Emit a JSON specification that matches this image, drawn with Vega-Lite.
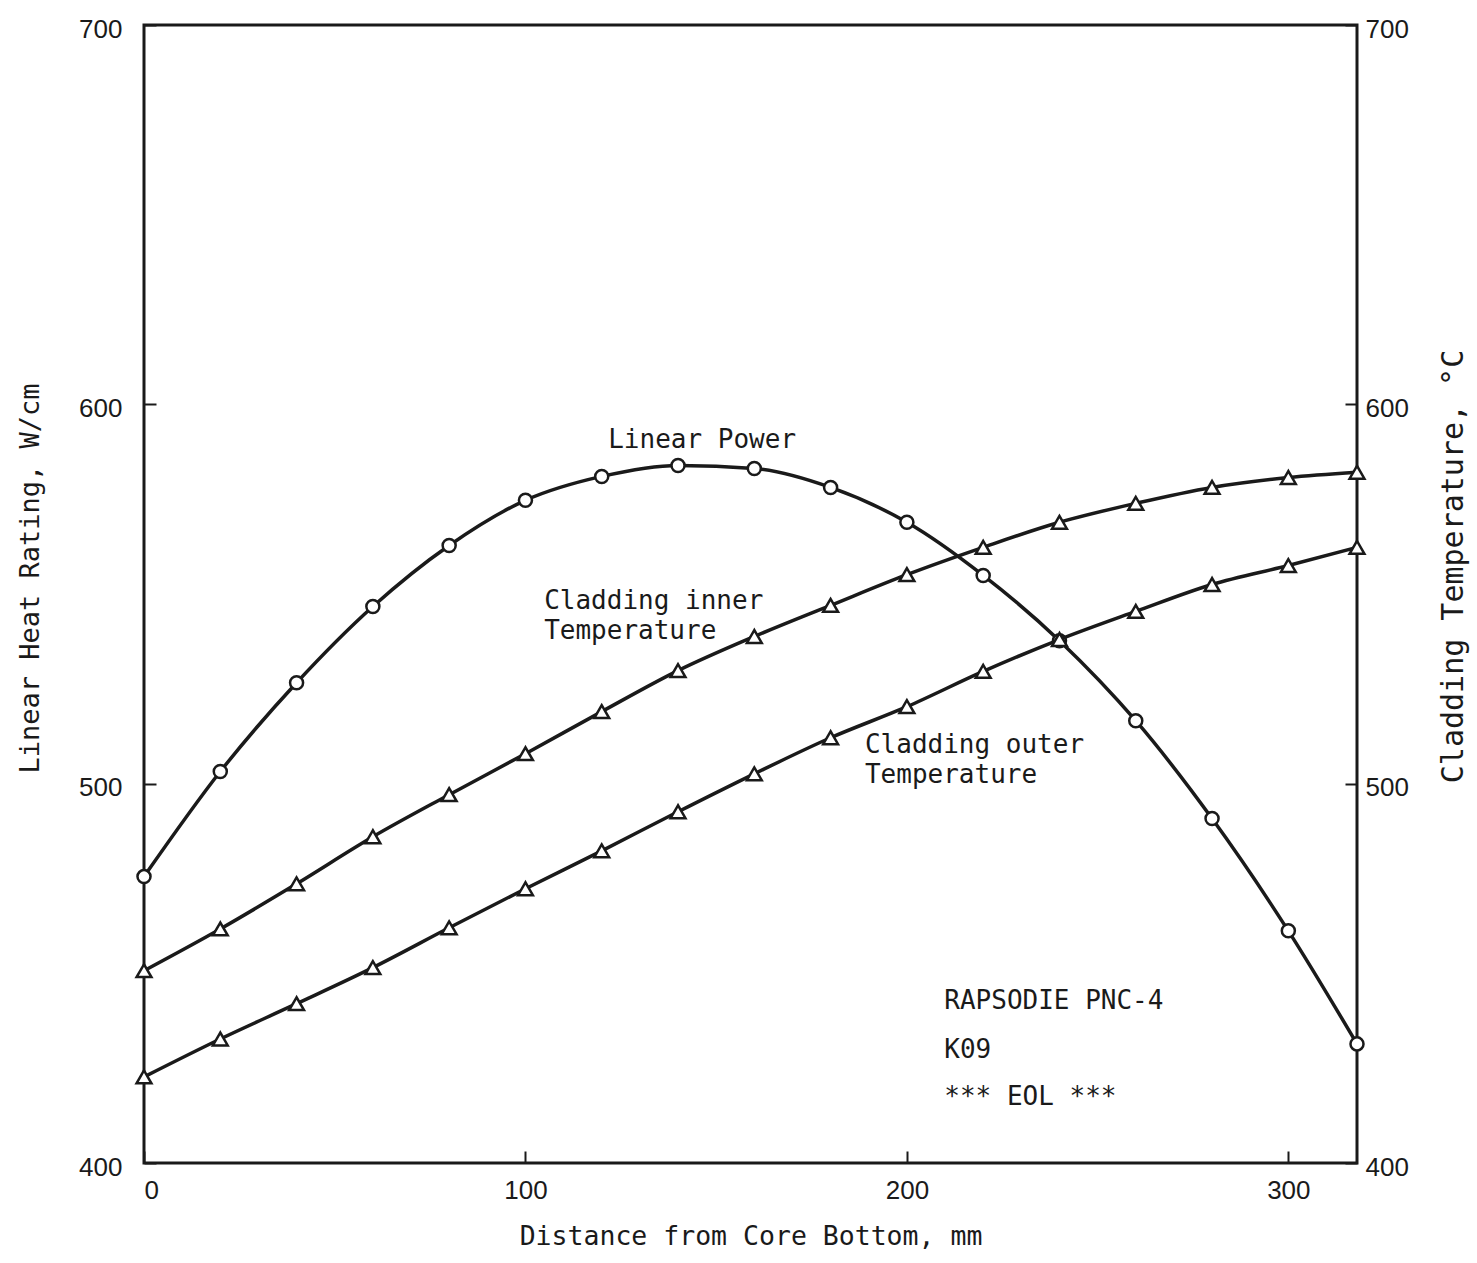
{
  "$schema": "https://vega.github.io/schema/vega-lite/v6.json",
  "width": 1213,
  "height": 1138,
  "autosize": {"type": "none"},
  "padding": {"left": 144, "top": 25, "right": 120, "bottom": 100},
  "background": "white",
  "config": {
    "view": {"stroke": "#1a1a1a", "strokeWidth": 3},
    "axis": {
      "domain": false,
      "grid": false,
      "tickColor": "#1a1a1a",
      "tickWidth": 2,
      "tickSize": -12,
      "labelFont": "Liberation Sans",
      "labelFontSize": 26,
      "labelColor": "#1a1a1a",
      "titleFont": "DejaVu Sans Mono",
      "titleFontSize": 26,
      "titleFontWeight": "normal",
      "titleColor": "#1a1a1a"
    }
  },
  "datasets": {
    "power": [
      {"x": 0, "y": 475.5}, {"x": 20, "y": 503.2}, {"x": 40, "y": 526.6}, {"x": 60, "y": 546.7},
      {"x": 80, "y": 562.8}, {"x": 100, "y": 574.7}, {"x": 120, "y": 581.0}, {"x": 140, "y": 583.9},
      {"x": 160, "y": 583.1}, {"x": 180, "y": 578.1}, {"x": 200, "y": 568.9}, {"x": 220, "y": 554.9},
      {"x": 240, "y": 537.7}, {"x": 260, "y": 516.6}, {"x": 280, "y": 490.8}, {"x": 300, "y": 461.2},
      {"x": 318, "y": 431.4}
    ],
    "temp": [
      {"series": "inner", "x": 0, "y": 450.7}, {"series": "inner", "x": 20, "y": 461.7},
      {"series": "inner", "x": 40, "y": 473.6}, {"series": "inner", "x": 60, "y": 486.0},
      {"series": "inner", "x": 80, "y": 497.1}, {"series": "inner", "x": 100, "y": 507.9},
      {"series": "inner", "x": 120, "y": 519.0}, {"series": "inner", "x": 140, "y": 529.8},
      {"series": "inner", "x": 160, "y": 538.8}, {"series": "inner", "x": 180, "y": 547.0},
      {"series": "inner", "x": 200, "y": 555.1}, {"series": "inner", "x": 220, "y": 562.3},
      {"series": "inner", "x": 240, "y": 568.9}, {"series": "inner", "x": 260, "y": 573.9},
      {"series": "inner", "x": 280, "y": 578.1}, {"series": "inner", "x": 300, "y": 580.7},
      {"series": "inner", "x": 318, "y": 582.1},
      {"series": "outer", "x": 0, "y": 422.7}, {"series": "outer", "x": 20, "y": 432.7},
      {"series": "outer", "x": 40, "y": 442.0}, {"series": "outer", "x": 60, "y": 451.5},
      {"series": "outer", "x": 80, "y": 462.0}, {"series": "outer", "x": 100, "y": 472.3},
      {"series": "outer", "x": 120, "y": 482.3}, {"series": "outer", "x": 140, "y": 492.6},
      {"series": "outer", "x": 160, "y": 502.6}, {"series": "outer", "x": 180, "y": 512.1},
      {"series": "outer", "x": 200, "y": 520.3}, {"series": "outer", "x": 220, "y": 529.6},
      {"series": "outer", "x": 240, "y": 538.0}, {"series": "outer", "x": 260, "y": 545.4},
      {"series": "outer", "x": 280, "y": 552.5}, {"series": "outer", "x": 300, "y": 557.5},
      {"series": "outer", "x": 318, "y": 562.3}
    ],
    "notes": [
      {"x": 121.7, "y": 590.6, "label": "Linear Power"},
      {"x": 104.9, "y": 548.1, "label": "Cladding inner"},
      {"x": 104.9, "y": 540.2, "label": "Temperature"},
      {"x": 189.0, "y": 510.2, "label": "Cladding outer"},
      {"x": 189.0, "y": 502.3, "label": "Temperature"},
      {"x": 209.8, "y": 442.7, "label": "RAPSODIE PNC-4"},
      {"x": 209.8, "y": 429.8, "label": "K09"},
      {"x": 209.8, "y": 417.4, "label": "*** EOL ***"}
    ]
  },
  "layer": [
    {
      "data": {"name": "power"},
      "encoding": {
        "x": {"field": "x", "type": "quantitative", "scale": {"domain": [0, 318], "nice": false},
              "axis": {"values": [0, 100, 200, 300], "title": "Distance from Core Bottom, mm", "labelPadding": 26, "titlePadding": 20, "titleFontSize": 26.5}},
        "y": {"field": "y", "type": "quantitative", "scale": {"domain": [400, 700], "nice": false},
              "axis": {"values": [400, 500, 600, 700], "title": "Linear Heat Rating, W/cm", "labelPadding": 34, "labelOffset": 4, "titlePadding": 34, "titleFontSize": 27, "titleY": 553}}
      },
      "layer": [
        {"mark": {"type": "line", "interpolate": "monotone", "color": "#1a1a1a", "strokeWidth": 3.5}},
        {"mark": {"type": "point", "shape": "circle", "filled": true, "fill": "white", "stroke": "#1a1a1a", "strokeWidth": 2.5, "size": 170, "opacity": 1}}
      ]
    },
    {
      "data": {"name": "temp"},
      "encoding": {
        "x": {"field": "x", "type": "quantitative", "scale": {"domain": [0, 318], "nice": false}},
        "y": {"field": "y", "type": "quantitative", "scale": {"domain": [400, 700], "nice": false},
              "axis": {"orient": "right", "values": [400, 500, 600, 700], "title": "Cladding Temperature, °C", "titleAngle": 270, "labelPadding": 20, "labelOffset": 4, "titlePadding": 60, "titleFontSize": 30, "titleY": 541}},
        "detail": {"field": "series"}
      },
      "layer": [
        {"mark": {"type": "line", "interpolate": "monotone", "color": "#1a1a1a", "strokeWidth": 3.5}},
        {"mark": {"type": "point", "shape": "triangle-up", "filled": true, "fill": "white", "stroke": "#1a1a1a", "strokeWidth": 2.5, "size": 220, "opacity": 1}}
      ]
    },
    {
      "data": {"name": "notes"},
      "mark": {"type": "text", "font": "DejaVu Sans Mono", "fontSize": 26, "align": "left", "baseline": "middle", "color": "#1a1a1a"},
      "encoding": {
        "x": {"field": "x", "type": "quantitative", "scale": {"domain": [0, 318], "nice": false}},
        "y": {"field": "y", "type": "quantitative", "scale": {"domain": [400, 700], "nice": false}, "axis": null},
        "text": {"field": "label"}
      }
    }
  ],
  "resolve": {"scale": {"y": "independent"}}
}
